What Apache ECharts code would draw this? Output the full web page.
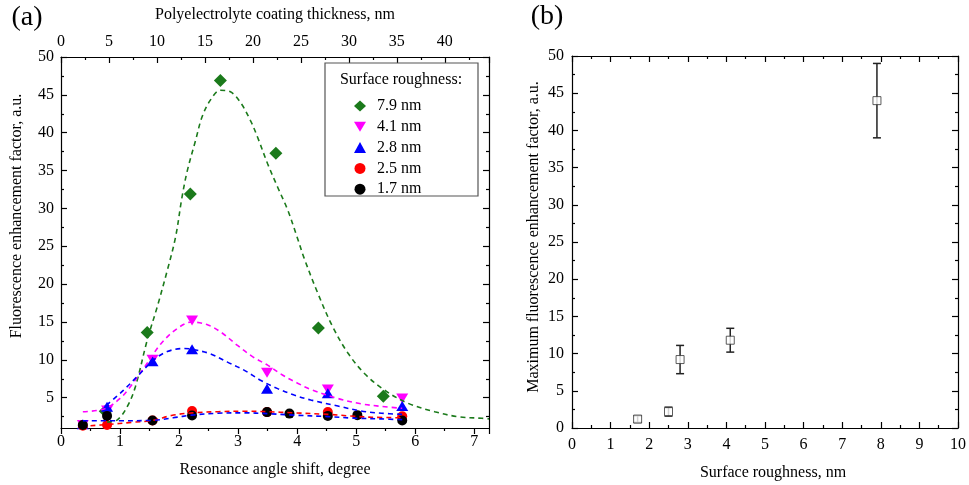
<!DOCTYPE html>
<html><head><meta charset="utf-8">
<script src="https://cdn.jsdelivr.net/npm/echarts@6/dist/echarts.min.js"></script>
<style>html,body{margin:0;padding:0;background:#fff}#c{width:969px;height:485px}</style>
</head><body><div id="c"></div>
<script>
// ---------- Panel (a): measured points ----------
const angleX   = [0.37, 0.78, 1.55, 2.22, 3.49, 4.52, 5.78];
const r79X     = [0.75, 1.46, 2.19, 2.70, 3.64, 4.36, 5.46];
const r79Y     = [3.2, 13.6, 31.9, 46.9, 37.3, 14.2, 5.2];
const r41Y     = [1.4, 3.3, 10.0, 15.2, 8.3, 6.1, 4.9];
const r28Y     = [1.5, 3.8, 9.8, 11.4, 6.2, 5.6, 3.9];
const r25Y     = [1.3, 1.4, 2.0, 3.25, 3.1, 3.1, 2.55];
const r17X     = [0.37, 0.78, 1.55, 2.22, 3.49, 3.87, 4.52, 5.02, 5.78];
const r17Y     = [1.4, 2.6, 2.0, 2.65, 3.1, 2.9, 2.6, 2.7, 2.0];
// ---------- Panel (a): fitted curves ----------
const fit79X = [0.78, 0.95, 1.12, 1.26, 1.46, 1.63, 1.80, 1.94, 2.05, 2.14, 2.28, 2.39, 2.53, 2.70, 2.87, 3.04, 3.21, 3.33, 3.50, 3.67, 3.84, 4.00, 4.12, 4.35, 4.60, 4.86, 5.14, 5.48, 5.88, 6.33, 6.73, 7.13, 7.25];
const fit79Y = [1.8, 2.05, 3.8, 6.45, 12.6, 17.0, 21.8, 26.2, 31.5, 35.0, 39.0, 42.1, 44.3, 45.6, 45.4, 44.0, 41.6, 39.4, 35.9, 32.8, 29.8, 26.2, 23.4, 18.8, 14.4, 10.9, 8.2, 6.0, 4.26, 3.15, 2.49, 2.28, 2.2];
const fit41X = [0.37, 0.60, 0.79, 1.00, 1.13, 1.42, 1.70, 1.98, 2.22, 2.49, 2.72, 2.99, 3.25, 3.50, 3.75, 4.00, 4.23, 4.69, 5.08, 5.43, 5.78];
const fit41Y = [3.15, 3.3, 3.7, 4.9, 6.0, 9.1, 12.2, 14.2, 15.0, 14.6, 13.6, 11.9, 10.4, 9.3, 8.0, 6.95, 6.1, 4.9, 4.2, 3.85, 3.6];
const fit28X = [0.77, 1.06, 1.34, 1.57, 1.80, 2.08, 2.22, 2.53, 2.82, 3.10, 3.38, 3.67, 3.95, 4.23, 4.69, 5.08, 5.43, 5.78];
const fit28Y = [4.0, 6.0, 8.2, 10.0, 11.1, 11.5, 11.4, 10.8, 9.7, 8.65, 7.3, 6.2, 5.35, 4.7, 3.9, 3.25, 2.95, 2.8];
const fit25X = [0.50, 0.78, 1.20, 1.55, 1.87, 2.22, 2.66, 3.10, 3.49, 3.95, 4.52, 4.97, 5.26, 5.78];
const fit25Y = [1.3, 1.45, 1.75, 2.0, 2.65, 3.0, 3.15, 3.22, 3.15, 3.0, 2.8, 2.55, 2.42, 2.35];
const fit17X = [0.37, 0.97, 1.54, 1.90, 2.22, 2.66, 3.10, 3.49, 3.95, 4.52, 4.97, 5.43, 5.78];
const fit17Y = [1.96, 1.96, 2.0, 2.35, 2.7, 2.95, 3.0, 2.9, 2.7, 2.5, 2.3, 2.2, 2.1];
// ---------- Panel (b) ----------
const roughX = [1.7, 2.5, 2.8, 4.1, 7.9];
const maxY   = [1.2, 2.2, 9.2, 11.8, 44.0];
const maxErr = [0.45, 0.6, 1.9, 1.6, 5.0];
// ---------- tick labels ----------
const yTicksA = [5, 10, 15, 20, 25, 30, 35, 40, 45, 50];
const yMinorA = [2.5, 7.5, 12.5, 17.5, 22.5, 27.5, 32.5, 37.5, 42.5, 47.5];
const legendNames = ['7.9 nm', '4.1 nm', '2.8 nm', '2.5 nm', '1.7 nm'];

const FONT = "'Liberation Serif','Times New Roman',serif";
const C79 = '#1b7a1b', C41 = '#ff00ff', C28 = '#0000ff', C25 = '#ff0000', C17 = '#000000';
const zip = (xs, ys) => xs.map((x, i) => [x, ys[i]]);
const lbl = (m, extra) => Object.assign({show: true, color: '#000', fontFamily: FONT, fontSize: 16, margin: m}, extra || {});
const line = {show: true, onZero: false, lineStyle: {color: '#000', width: 1.2}};
const noLine = {show: false, onZero: false};

function xAx(gi, pos, min, max, itv, inside, showLabel, m) {
  return {type: 'value', gridIndex: gi, position: pos, min: min, max: max, interval: itv,
    axisLine: line, splitLine: {show: false},
    axisTick: {show: true, inside: inside, length: 6, lineStyle: {color: '#000', width: 1.2}},
    minorTick: {show: true, splitNumber: 2, length: 3, lineStyle: {color: '#000', width: 1.2}},
    axisLabel: showLabel ? lbl(m, {showMaxLabel: max % itv === 0, showMinLabel: true}) : {show: false}};
}
function yAxA(pos, ticks, len, showLabel, showLine) {
  return {type: 'value', gridIndex: 0, position: pos, min: 1, max: 50,
    axisLine: showLine ? line : noLine, splitLine: {show: false},
    axisTick: {show: true, inside: true, length: len, customValues: ticks, lineStyle: {color: '#000', width: 1.2}},
    axisLabel: showLabel ? lbl(7, {customValues: ticks}) : {show: false}};
}
function yAxB(pos, showLabel) {
  return {type: 'value', gridIndex: 1, position: pos, min: 0, max: 50, interval: 5,
    axisLine: line, splitLine: {show: false},
    axisTick: {show: true, inside: true, length: 6, lineStyle: {color: '#000', width: 1.2}},
    minorTick: {show: true, splitNumber: 2, length: 3, lineStyle: {color: '#000', width: 1.2}},
    axisLabel: showLabel ? lbl(8) : {show: false}};
}
function scat(name, data, color, symbol, size, rot) {
  return {type: 'scatter', name: name, xAxisIndex: 0, yAxisIndex: 0, data: data,
    symbol: symbol, symbolSize: size, symbolRotate: rot || 0, itemStyle: {color: color, opacity: 1}, z: 3};
}
function fit(name, data, color) {
  return {type: 'line', name: name, xAxisIndex: 0, yAxisIndex: 0, data: data, smooth: 0.35,
    showSymbol: false, symbol: 'none', silent: true,
    lineStyle: {color: color, width: 1.6, type: [5, 4]}, z: 4};
}

const chart = echarts.init(document.getElementById('c'), null, {renderer: 'canvas'});
const txt = (t, x, y, size, rot) => ({type: 'text', x: x, y: y, rotation: rot || 0, z: 20,
  style: {text: t, fill: '#000', font: size + 'px ' + FONT, textAlign: 'center', textVerticalAlign: 'middle'}});

const downTri = 'path://M0,0L12,0L6,10Z';

chart.setOption({
  animation: false,
  backgroundColor: '#fff',
  grid: [{left: 61, top: 57, width: 428, height: 371}, {left: 572, top: 56, width: 388, height: 372}],
  xAxis: [
    xAx(0, 'bottom', 0, 7.25, 1, false, true, 6),
    xAx(0, 'top', 0, 44.6, 5, true, true, 7),
    xAx(1, 'bottom', 0, 10, 1, true, true, 9),
    xAx(1, 'top', 0, 10, 1, true, false, 8)
  ],
  yAxis: [
    yAxA('left', yTicksA, 6, true, true),
    yAxA('right', yTicksA, 6, false, true),
    yAxA('left', yMinorA, 3, false, false),
    yAxA('right', yMinorA, 3, false, false),
    yAxB('left', true),
    yAxB('right', false)
  ],
  legend: {left: 349, top: 93, orient: 'vertical', itemWidth: 12, itemHeight: 11, itemGap: 4.8,
    textStyle: {color: '#000', fontFamily: FONT, fontSize: 16, lineHeight: 16, padding: [0, 0, 0, 6]},
    data: legendNames.map((n, i) => i === 1 ? {name: n, icon: downTri} : (i === 0 ? {name: n, icon: 'diamond'} : {name: n})),
    selectedMode: false, z: 10},
  graphic: [
    {type: 'rect', shape: {x: 325, y: 63, width: 153, height: 133}, style: {fill: '#fff', stroke: '#555', lineWidth: 1.2}, z: 1},
    txt('Surface roughness:', 401, 80, 16),
    txt('(a)', 27, 18, 28),
    txt('(b)', 547, 17, 28),
    txt('Polyelectrolyte coating thickness, nm', 275, 15, 16),
    txt('Resonance angle shift, degree', 275, 470, 16),
    txt('Surface roughness, nm', 773, 473, 16),
    txt('Fluorescence enhancement factor, a.u.', 17, 216, 16, Math.PI / 2),
    txt('Maximum fluorescence enhancement factor, a.u.', 534, 237, 16, Math.PI / 2)
  ],
  series: [
    scat('7.9 nm', zip(r79X, r79Y), C79, 'diamond', [13, 13]),
    scat('4.1 nm', zip(angleX, r41Y), C41, 'triangle', [12, 10], 180),
    scat('2.8 nm', zip(angleX, r28Y), C28, 'triangle', [12, 10]),
    scat('2.5 nm', zip(angleX, r25Y), C25, 'circle', 10),
    scat('1.7 nm', zip(r17X, r17Y), C17, 'circle', 10),
    fit('fit 7.9', zip(fit79X, fit79Y), C79),
    fit('fit 4.1', zip(fit41X, fit41Y), C41),
    fit('fit 2.8', zip(fit28X, fit28Y), C28),
    fit('fit 2.5', zip(fit25X, fit25Y), C25),
    fit('fit 1.7', zip(fit17X, fit17Y), C28),
    {type: 'custom', name: 'err', xAxisIndex: 2, yAxisIndex: 4, silent: true, z: 2,
      data: roughX.map((x, i) => [x, maxY[i] - maxErr[i], maxY[i] + maxErr[i]]),
      encode: {x: 0, y: [1, 2]},
      renderItem: function (params, api) {
        const x = api.value(0), lo = api.value(1), hi = api.value(2);
        const a = api.coord([x, hi]), b = api.coord([x, lo]);
        const w = 4, st = {stroke: '#222', lineWidth: 1.5};
        return {type: 'group', children: [
          {type: 'line', shape: {x1: a[0], y1: a[1], x2: b[0], y2: b[1]}, style: st},
          {type: 'line', shape: {x1: a[0] - w, y1: a[1], x2: a[0] + w, y2: a[1]}, style: st},
          {type: 'line', shape: {x1: b[0] - w, y1: b[1], x2: b[0] + w, y2: b[1]}, style: st}
        ]};
      }},
    {type: 'scatter', name: 'max', xAxisIndex: 2, yAxisIndex: 4, data: zip(roughX, maxY),
      symbol: 'rect', symbolSize: 8, z: 5,
      itemStyle: {color: '#fff', borderColor: '#333', borderWidth: 1}}
  ]
});
</script></body></html>
